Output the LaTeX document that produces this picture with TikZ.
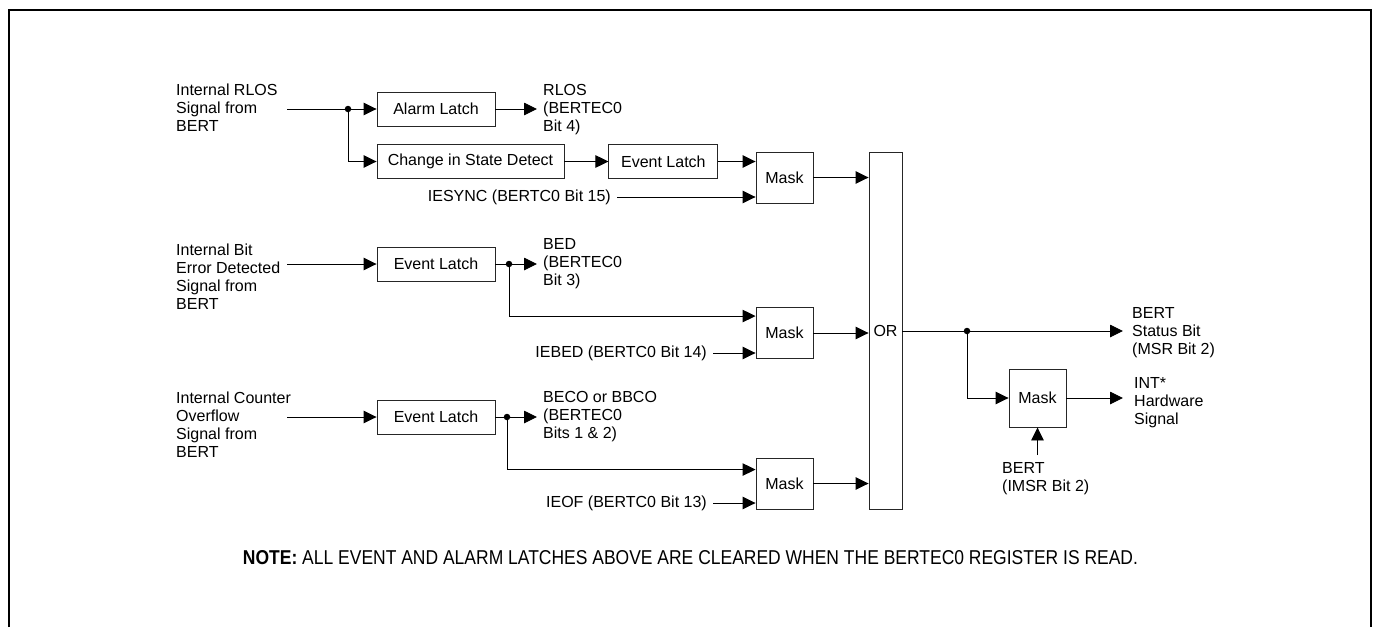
\documentclass[tikz,border=0pt]{standalone}
\usepackage{fontspec}
\setmainfont{Liberation Sans}
\usetikzlibrary{positioning,arrows.meta,calc}

\begin{document}
\begin{tikzpicture}[x=1pt,y=-1pt,
  font=\fontsize{16}{18}\selectfont,
  box/.style={rectangle, draw=black!85, line width=0.9pt, minimum height=34pt, inner sep=0pt, align=center},
  maskbox/.style={box, minimum width=57pt, minimum height=51pt},
  insig/.style={align=left, inner sep=0pt, anchor=north west},
  outsig/.style={align=left, inner ysep=0pt, inner xsep=6pt, anchor=north west},
  enbit/.style={inner ysep=0pt, inner xsep=6pt, anchor=east},
  wire/.style={line width=0.9pt},
  arrow/.style={-{Triangle[length=13pt,width=12.5pt]}, line width=0.9pt},
  junct/.style={circle, fill, inner sep=0pt, minimum size=6.5pt}]

  \useasboundingbox (0,0) rectangle (1377,627);
  \draw[line width=2.5pt] (9,627) |- (1371,10) -- (1371,627);

  % RLOS path
  \node[insig] (rlostxt) at (176,84) {Internal RLOS\\Signal from\\BERT};
  \coordinate (rlosin) at (287,109);
  \node[junct] (j1) at (348,109) {};
  \node[box, minimum width=118pt] (alarm) at (436,109) {Alarm Latch};
  \node[outsig] (rlosbit) at (537,84) {RLOS\\(BERTEC0\\Bit 4)};
  \node[box, minimum width=187pt] (change) at (470.5,161.5) {Change in State Detect};
  \node[box, minimum width=109pt, right=44pt of change] (ev1) {Event Latch};
  \node[maskbox] (mask1) at (784.5,177.5) {Mask};
  \node[enbit] (iesync) at (617,197) {IESYNC (BERTC0 Bit 15)};

  % bit error path
  \node[insig] (bedtxt) at (176,244) {Internal Bit\\Error Detected\\Signal from\\BERT};
  \coordinate (bedin) at (287,264);
  \node[box, minimum width=118pt] (ev2) at (436,264) {Event Latch};
  \node[junct] (j2) at (509,264) {};
  \node[outsig] (bedbit) at (537,238) {BED\\(BERTEC0\\Bit 3)};
  \node[maskbox] (mask2) at (784.5,333) {Mask};
  \node[enbit] (iebed) at (713,353) {IEBED (BERTC0 Bit 14)};

  % counter overflow path
  \node[insig] (ovftxt) at (176,392) {Internal Counter\\Overflow\\Signal from\\BERT};
  \coordinate (ovfin) at (287,417);
  \node[box, minimum width=118pt] (ev3) at (436,417) {Event Latch};
  \node[junct] (j3) at (507,417) {};
  \node[outsig] (ovfbit) at (537,391) {BECO or BBCO\\(BERTEC0\\Bits 1 \& 2)};
  \node[maskbox] (mask3) at (784.5,483.5) {Mask};
  \node[enbit] (ieof) at (713,503) {IEOF (BERTC0 Bit 13)};

  % OR and outputs
  \node[box, minimum width=33pt, minimum height=357pt] (orgate) at (885.5,331) {OR};
  \node[junct] (j4) at (967,331) {};
  \node[outsig, inner xsep=9pt] (statbit) at (1123,307) {BERT\\Status Bit\\(MSR Bit 2)};
  \node[maskbox, minimum height=58pt] (mask4) at (1037.5,398) {Mask};
  \node[outsig, inner xsep=11pt] (intbit) at (1123,377) {INT*\\Hardware\\Signal};
  \node[insig, inner ysep=7pt] (imsrbit) at (1002,455) {BERT\\(IMSR Bit 2)};

  \node (note) at (690.5,558) {\resizebox{895pt}{14pt}{\textbf{NOTE:} ALL EVENT AND ALARM LATCHES ABOVE ARE CLEARED WHEN THE BERTEC0 REGISTER IS READ.}};

  \draw[wire] (rlosin) -- (j1);
  \draw[arrow] (j1) -- (alarm);
  \draw[arrow] (j1) |- (change);
  \draw[arrow] (alarm.east) -- (alarm.east -| rlosbit.west);
  \draw[arrow] (change) -- (ev1);
  \draw[arrow] (ev1.east) -- (ev1.east -| mask1.west);
  \draw[arrow] (iesync.east) -- (iesync.east -| mask1.west);
  \draw[arrow] (mask1.east) -- (mask1.east -| orgate.west);

  \draw[arrow] (bedin) -- (ev2);
  \draw[wire] (ev2) -- (j2);
  \draw[arrow] (j2) -- (j2 -| bedbit.west);
  \draw[arrow] (j2) |- ([yshift=-9pt]mask2.north west);
  \draw[arrow] (iebed.east) -- (iebed.east -| mask2.west);
  \draw[arrow] (mask2.east) -- (mask2.east -| orgate.west);

  \draw[arrow] (ovfin) -- (ev3);
  \draw[wire] (ev3) -- (j3);
  \draw[arrow] (j3) -- (j3 -| ovfbit.west);
  \draw[arrow] (j3) |- ([yshift=-12pt]mask3.north west);
  \draw[arrow] (ieof.east) -- (ieof.east -| mask3.west);
  \draw[arrow] (mask3.east) -- (mask3.east -| orgate.west);

  \draw[wire] (orgate.east |- j4) -- (j4);
  \draw[arrow] (j4) -- (j4 -| statbit.west);
  \draw[arrow] (j4) |- (mask4);
  \draw[arrow] (mask4.east) -- (mask4.east -| intbit.west);
  \draw[arrow] (imsrbit.north -| mask4.south) -- (mask4.south);
\end{tikzpicture}
\end{document}
